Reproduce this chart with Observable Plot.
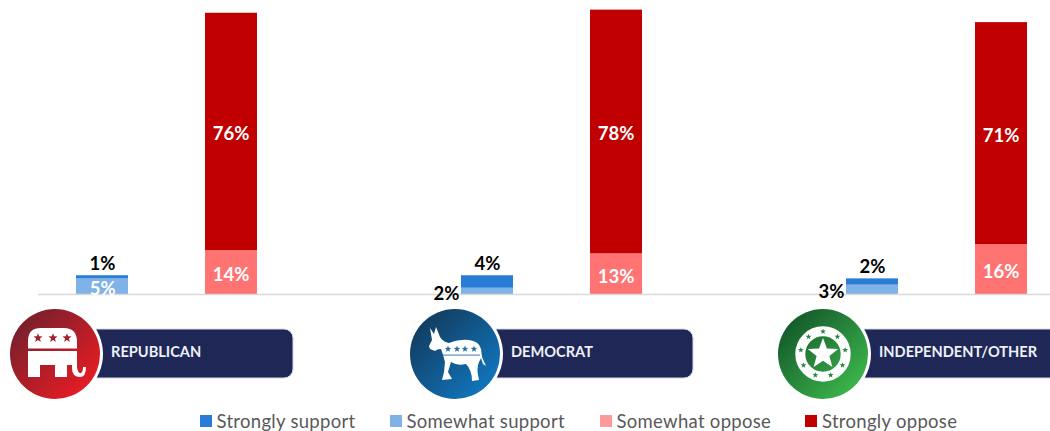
<!DOCTYPE html>
<html>
<head>
<meta charset="utf-8">
<script src="https://cdn.jsdelivr.net/npm/d3@7"></script>
<script src="https://cdn.jsdelivr.net/npm/@observablehq/plot@0.6"></script>
<style>
  html, body { margin: 0; padding: 0; background: #fff; overflow: hidden; }
  #chart { position: relative; width: 1050px; height: 431px; overflow: hidden; }
  #chart svg { display: block; }
  .legend { position: absolute; top: 411px; left: 0; width: 1050px; height: 20px;
            font: 18.5px Lato, sans-serif; color: #595959; letter-spacing: 0.3px; }
  .legend-item { position: absolute; top: 0; white-space: nowrap; line-height: 21px; padding-left: 17px; }
  .legend-swatch { position: absolute; left: 0; top: 4px; width: 12px; height: 12px; }
</style>
</head>
<body>
<div id="chart"></div>
<script>
// Survey results by party identification, in percent.
const parties = ["Republican", "Democrat", "Independent/Other"];
const partyLabels = ["REPUBLICAN", "DEMOCRAT", "INDEPENDENT/OTHER"];
const stances = ["Somewhat support", "Strongly support", "Somewhat oppose", "Strongly oppose"];
const stanceColors = ["#7fb2e6", "#2a7dd6", "#ff7373", "#c00000"];
const somewhatSupport = [5, 2, 3];
const stronglySupport = [1, 4, 2];
const somewhatOppose = [14, 13, 16];
const stronglyOppose = [76, 78, 71];

const legendOrder = ["Strongly support", "Somewhat support", "Somewhat oppose", "Strongly oppose"];
const legendSwatches = ["#2a7dd6", "#7fb2e6", "#ff9a9a", "#c00000"];
const legendLefts = [199.5, 389.5, 599.5, 805];

const stanceValues = [somewhatSupport, stronglySupport, somewhatOppose, stronglyOppose];
const rows = stances.flatMap((stance, s) =>
  parties.map((party, p) => ({
    party,
    stance,
    value: stanceValues[s][p],
    label: `${stanceValues[s][p]}%`,
    side: stance.endsWith("support") ? "support" : "oppose",
    slot: `${party}|${stance.endsWith("support") ? "support" : "oppose"}`
  }))
);

// Each party gets a support and an oppose column, then one empty slot.
const slots = parties.flatMap((party, i) => [
  `${party}|support`, `${party}|oppose`, ...(i < parties.length - 1 ? [`gap${i}`] : [])
]);

const stacked = (extra) => Plot.stackY({x: "slot", y: "value", z: "stance", order: stances, ...extra});
const labelFont = {fontFamily: "Lato, sans-serif", fontWeight: 700, fontSize: 18.5};

// Party badges: gradient disc with an emblem and a navy name plate.
const badgeStyles = [
  {from: "#76202c", to: "#e81c24", cx: 55, plateRight: 293, textX: 111, emblem: "elephant"},
  {from: "#123c5e", to: "#1176bf", cx: 455, plateRight: 693, textX: 511, emblem: "donkey"},
  {from: "#14592b", to: "#3cb64b", cx: 823, plateRight: 1070, textX: 879, emblem: "wheel"}
];

function starPath(cx, cy, r) {
  return d3.range(10).map((i) => {
    const a = -Math.PI / 2 + i * Math.PI / 5;
    const q = i % 2 ? r * 0.42 : r;
    return `${i ? "L" : "M"}${cx + q * Math.cos(a)},${cy + q * Math.sin(a)}`;
  }).join("") + "Z";
}

function drawEmblem(g, kind) {
  if (kind === "elephant") {
    g.append("path").attr("fill", "#fff")
      .attr("d", "M-27,-5.5 L-27,-13 Q-27,-26 -14,-26 L9,-26 Q22,-26 22,-12 L22,-5.5 Z");
    g.append("path").attr("fill", "#fff")
      .attr("d", "M-27,-3 L22,-3 L22,13 Q23,20 26,19 Q28,18 28,13 L31,13 Q31,23 25,23 Q17,23 17,14 L17,11 L12,11 L12,23 L0,23 L0,11 L-15,11 L-15,23 L-27,23 Z");
    [-17, -2, 12].forEach((x) => g.append("path").attr("fill", "#a3202e").attr("d", starPath(x, -16, 4.8)));
  } else if (kind === "donkey") {
    g.append("path").attr("fill", "#fff")
      .attr("d", "M-25,-26 L-21,-20 L-19,-27 L-15,-17 Q-12,-12 -6,-11 Q5,-15 14,-14 Q24,-13 26,-5 L27,3 L31,12 L28,10 L26,4 L24,8 Q21,14 24,26 L17,27 Q17,16 11,10 Q2,12 -4,8 L-7,18 L-3,25 L-13,26 L-11,18 L-10,8 Q-12,0 -14,-5 Q-18,-5 -20,-3 L-25,-5 L-26,-8 L-23,-14 Z");
    g.append("rect").attr("x", -12).attr("y", 0.5).attr("width", 37).attr("height", 1.2).attr("fill", "#5d8fbc");
    [-7, 2, 10, 19].forEach((x) => g.append("path").attr("fill", "#2b6ca8").attr("d", starPath(x, -5, 3.4)));
  } else {
    g.append("circle").attr("r", 22.7).attr("fill", "none").attr("stroke", "#fff").attr("stroke-width", 10);
    d3.range(9).forEach((i) => {
      const a = -Math.PI / 2 + i * 2 * Math.PI / 9;
      g.append("path").attr("fill", "#1f8a3d").attr("d", starPath(22.5 * Math.cos(a), 22.5 * Math.sin(a), 3));
    });
    g.append("path").attr("fill", "#fff").attr("d", starPath(0, 0, 16));
  }
}

function partyBadges() {
  const root = d3.create("svg:g").attr("class", "party-badges");
  const defs = root.append("defs");
  badgeStyles.forEach((b, i) => {
    const grad = defs.append("linearGradient").attr("id", `badge-${i}`)
      .attr("x1", "0.12").attr("y1", "0.12").attr("x2", "0.88").attr("y2", "0.88");
    grad.append("stop").attr("offset", 0).attr("stop-color", b.from);
    grad.append("stop").attr("offset", 1).attr("stop-color", b.to);

    root.append("rect").attr("x", b.cx).attr("y", 329).attr("width", b.plateRight - b.cx).attr("height", 49)
      .attr("rx", 9).attr("fill", "#1e2756").attr("stroke", "#d5d8e4").attr("stroke-width", 1);
    root.append("text").attr("x", b.textX).attr("y", 352).attr("dy", "0.35em")
      .attr("text-anchor", "start")
      .attr("fill", "#eef0f6").attr("font-family", "Lato, sans-serif").attr("font-weight", 700)
      .attr("font-size", 14.6).text(partyLabels[i]);

    const g = root.append("g").attr("transform", `translate(${b.cx},354)`);
    g.append("circle").attr("r", 48).attr("fill", "#fff");
    g.append("circle").attr("r", 45).attr("fill", `url(#badge-${i})`);
    drawEmblem(g, b.emblem);
  });
  return root.node();
}

const chart = Plot.plot({
  width: 1050,
  height: 410,
  marginTop: 0,
  marginRight: 0,
  marginBottom: 0,
  marginLeft: 38,
  style: {background: "transparent", overflow: "visible"},
  x: {type: "band", domain: slots, range: [37.83, 1064.5], paddingInner: 0.595, paddingOuter: 0.2975, round: false, axis: null},
  y: {domain: [0, 94.08], range: [294, 0], axis: null},
  color: {domain: stances, range: stanceColors},
  marks: [
    // Support columns sit on the slot centre, oppose columns are nudged onto whole pixels.
    Plot.barY(rows.filter((d) => d.side === "support"), stacked({fill: "stance"})),
    Plot.barY(rows.filter((d) => d.side === "oppose"), stacked({fill: "stance", dx: 0.67})),
    Plot.ruleY([0], {stroke: "#d9d9d9", strokeWidth: 1.5}),
    // Large segments carry their value inside.
    Plot.text(rows, Plot.filter((d) => d.value >= 5, stacked({text: "label", fill: "#fff", dy: 2.5, dx: 0.3, ...labelFont}))),
    // The thin top support segment is labelled above the column.
    Plot.text(rows, Plot.filter((d) => d.stance === "Strongly support", Plot.stackY2({x: "slot", y: "value", z: "stance", order: stances, text: "label", fill: "#000", dy: -11.5, ...labelFont}))),
    // Thin lower support segments are labelled beside the column.
    Plot.text(rows, Plot.filter((d) => d.stance === "Somewhat support" && d.value < 5, stacked({text: "label", fill: "#000", dx: -41, dy: 2.5, ...labelFont}))),
    partyBadges
  ]
});

const container = document.getElementById("chart");
container.appendChild(chart);

// Swatch legend below the plot.
const legend = d3.select(container).append("div").attr("class", "legend");
legendOrder.forEach((name, i) => {
  const item = legend.append("div").attr("class", "legend-item").style("left", `${legendLefts[i]}px`);
  item.append("span").attr("class", "legend-swatch").style("background", legendSwatches[i]);
  item.append("span").text(name);
});
</script>
</body>
</html>
